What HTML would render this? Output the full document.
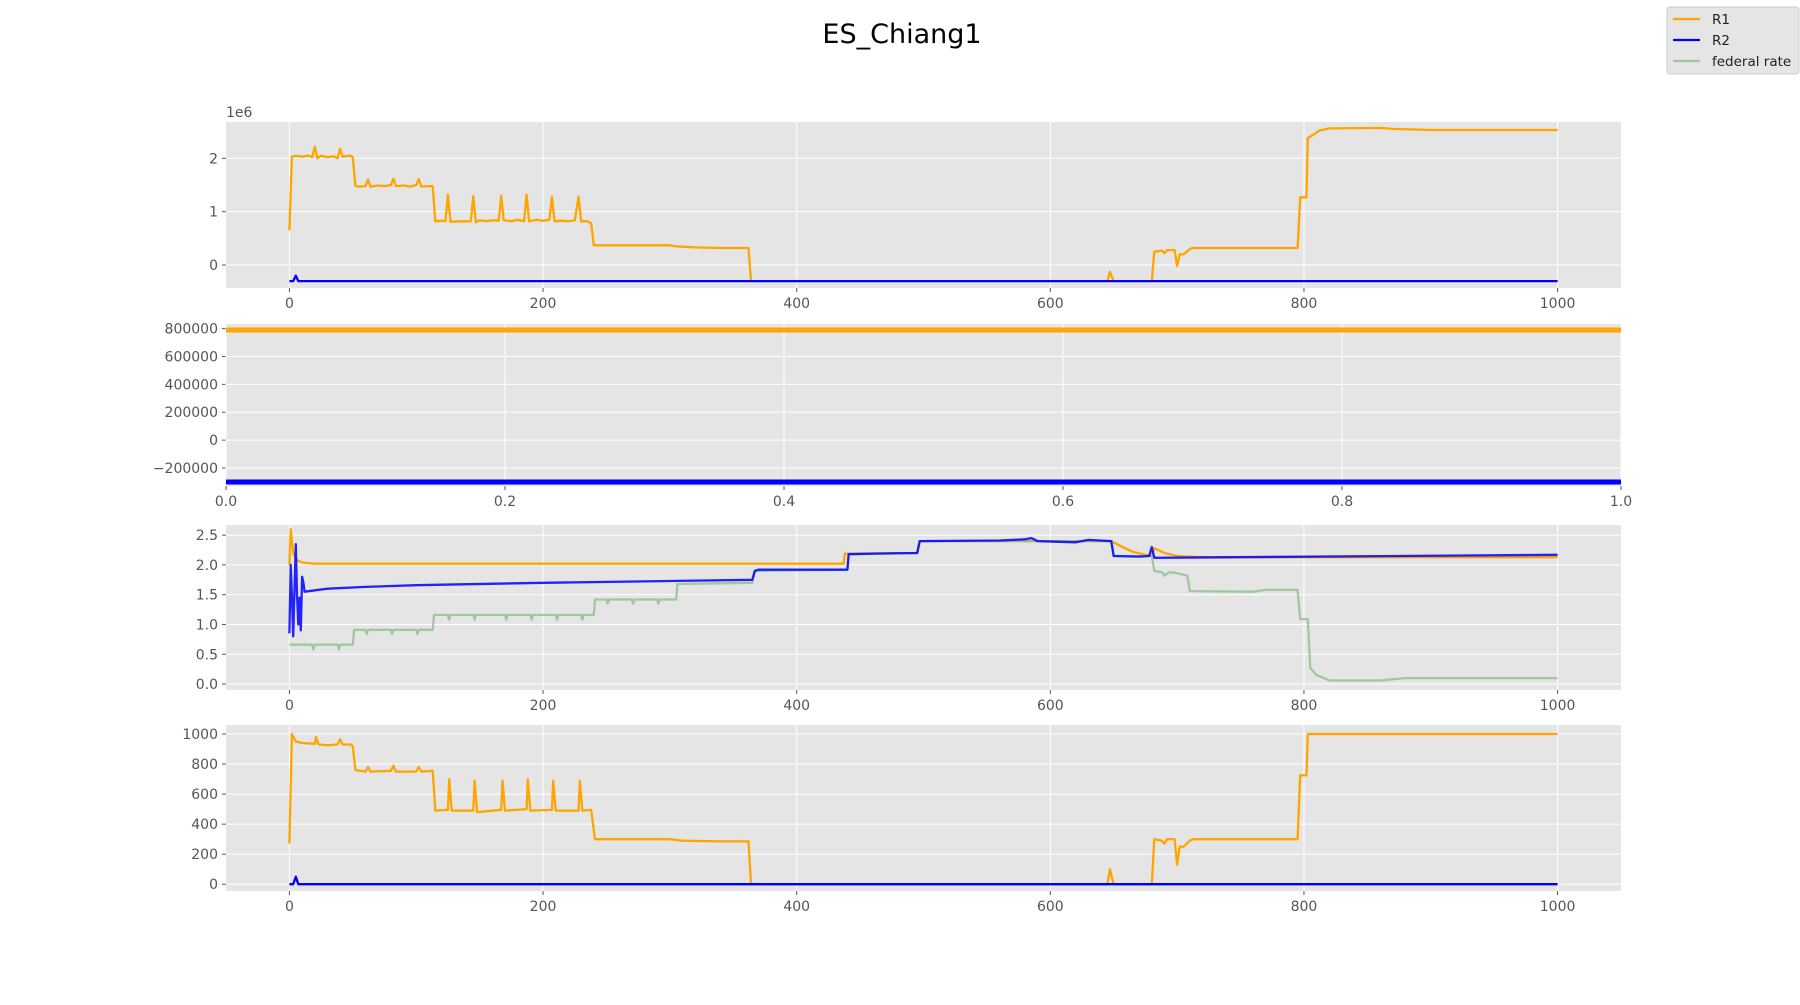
<!DOCTYPE html>
<html><head><meta charset="utf-8"><style>
body{margin:0;background:#fff;}
svg text{font-family:"DejaVu Sans","Liberation Sans",sans-serif;}
</style></head><body>
<svg id="fig" width="1800" height="1000" viewBox="0 0 1800 1000" xmlns="http://www.w3.org/2000/svg">
<text x="902" y="43" font-size="27" text-anchor="middle" fill="#000">ES_Chiang1</text>
<g>
<rect x="1667" y="7" width="132" height="67" rx="3" fill="#e5e5e5" stroke="#ccc"/>
<line x1="1673" y1="19" x2="1700" y2="19" stroke="#ffa500" stroke-width="2.3"/>
<text x="1712" y="24" font-size="13.5" fill="#222">R1</text>
<line x1="1673" y1="40" x2="1700" y2="40" stroke="#0000ff" stroke-width="2.3"/>
<text x="1712" y="45" font-size="13.5" fill="#222">R2</text>
<line x1="1673" y1="61" x2="1700" y2="61" stroke="#9fc79f" stroke-width="2.3"/>
<text x="1712" y="66" font-size="13.5" fill="#222">federal rate</text>
</g>
</svg>
<script>
// Panel 1 (units of 1e6)
const p1R1 = [[0,0.65],[2,2.03],[5,2.05],[10,2.03],[15,2.05],[18,2.02],[20,2.22],[22,2.0],[25,2.05],[30,2.02],[35,2.04],[38,2.0],[40,2.18],[42,2.03],[45,2.04],[48,2.05],[50,2.02],[52,1.48],[55,1.47],[60,1.48],[62,1.6],[64,1.47],[70,1.49],[75,1.48],[80,1.5],[82,1.62],[84,1.48],[90,1.49],[95,1.47],[100,1.5],[102,1.61],[104,1.47],[110,1.48],[113,1.48],[115,0.82],[120,0.83],[123,0.82],[125,1.32],[127,0.81],[135,0.82],[143,0.82],[145,1.29],[147,0.8],[150,0.84],[155,0.82],[160,0.84],[165,0.83],[167,1.3],[169,0.84],[175,0.82],[180,0.85],[185,0.82],[187,1.32],[189,0.82],[195,0.85],[200,0.83],[205,0.85],[207,1.28],[209,0.82],[215,0.83],[220,0.82],[225,0.84],[228,1.28],[230,0.82],[235,0.82],[238,0.78],[240,0.37],[300,0.37],[305,0.35],[320,0.33],[340,0.32],[362,0.32],[364,-0.3],[645,-0.3],[647,-0.13],[650,-0.3],[680,-0.3],[682,0.25],[688,0.27],[690,0.22],[692,0.28],[698,0.28],[700,-0.02],[702,0.2],[705,0.2],[710,0.3],[712,0.32],[795,0.32],[797,1.27],[802,1.27],[803,2.38],[808,2.45],[812,2.52],[820,2.56],[860,2.57],[870,2.55],[900,2.53],[920,2.53],[1000,2.53]];
const p1R2 = [[0,-0.3],[3,-0.3],[5,-0.2],[7,-0.3],[1000,-0.3]];
const p1Ticks = [0,1,2];
// Panel 2
const p2R1 = [[0,790000],[1,790000]];
const p2R2 = [[0,-300000],[1,-300000]];
const p2Ticks = [-200000,0,200000,400000,600000,800000];
const p2XTicks = [0,0.2,0.4,0.6,0.8,1.0];
// Panel 3
const p3R1 = [[0,2.0],[1,2.6],[3,2.2],[6,2.08],[10,2.04],[20,2.02],[437,2.02],[438,2.19],[495,2.2],[497,2.4],[648,2.4],[655,2.32],[665,2.22],[675,2.17],[680,2.15],[682,2.28],[690,2.2],[700,2.15],[720,2.13],[1000,2.13]];
const p3R2 = [[0,0.85],[1,2.0],[2,1.5],[3,0.8],[5,2.35],[6,1.5],[7,1.0],[8,1.45],[9,0.9],[10,1.8],[11,1.7],[12,1.55],[30,1.6],[60,1.63],[100,1.66],[200,1.7],[300,1.73],[365,1.75],[367,1.9],[370,1.92],[440,1.92],[441,2.18],[460,2.19],[495,2.2],[497,2.4],[560,2.41],[580,2.43],[585,2.45],[590,2.4],[620,2.38],[630,2.42],[648,2.4],[650,2.15],[670,2.14],[678,2.15],[680,2.3],[682,2.12],[1000,2.17]];
const p3Fed = [[0,0.66],[18,0.66],[19,0.58],[20,0.66],[38,0.66],[39,0.58],[40,0.66],[50,0.66],[51,0.91],[60,0.91],[61,0.84],[62,0.91],[80,0.91],[81,0.84],[82,0.91],[100,0.91],[101,0.84],[102,0.91],[113,0.91],[114,1.16],[125,1.16],[126,1.08],[127,1.16],[145,1.16],[146,1.08],[147,1.16],[170,1.16],[171,1.08],[172,1.16],[190,1.16],[191,1.08],[192,1.16],[210,1.16],[211,1.08],[212,1.16],[230,1.16],[231,1.08],[232,1.16],[240,1.16],[241,1.42],[250,1.42],[251,1.35],[252,1.42],[270,1.42],[271,1.35],[272,1.42],[290,1.42],[291,1.35],[292,1.42],[305,1.42],[306,1.68],[365,1.7],[367,1.9],[440,1.92],[441,2.18],[495,2.2],[497,2.4],[648,2.4],[650,2.15],[680,2.15],[682,1.9],[688,1.88],[690,1.82],[694,1.88],[700,1.86],[708,1.82],[710,1.56],[760,1.55],[770,1.58],[795,1.58],[797,1.09],[803,1.09],[805,0.27],[810,0.15],[820,0.06],[860,0.06],[880,0.1],[900,0.1],[950,0.1],[1000,0.1]];
const p3Ticks = [0,0.5,1,1.5,2,2.5];
const p3TickLabels = ["0.0","0.5","1.0","1.5","2.0","2.5"];
// Panel 4
const p4R1 = [[0,270],[2,1000],[5,950],[10,940],[20,935],[21,980],[23,930],[30,925],[38,930],[40,965],[42,930],[48,930],[50,920],[52,760],[60,750],[62,780],[64,750],[80,755],[82,790],[84,750],[100,750],[102,780],[104,750],[113,755],[115,490],[125,495],[126,700],[128,490],[145,490],[146,690],[148,480],[167,495],[168,690],[170,490],[187,500],[188,700],[190,490],[207,495],[208,690],[210,490],[228,490],[229,690],[231,490],[238,495],[241,300],[300,300],[310,290],[340,285],[362,285],[364,0],[645,0],[647,100],[650,0],[680,0],[682,300],[688,290],[690,270],[692,300],[698,300],[700,130],[702,250],[705,250],[710,290],[713,300],[795,300],[797,725],[802,725],[803,1000],[1000,1000]];
const p4R2 = [[0,0],[3,0],[5,50],[7,0],[1000,0]];
const p4Ticks = [0,200,400,600,800,1000];
const xTicks = [0,200,400,600,800,1000];

const NS = 'http://www.w3.org/2000/svg';
const fig = document.getElementById('fig');
function mk(tag, attrs, parent){const e=document.createElementNS(NS,tag);for(const k in attrs)e.setAttribute(k,attrs[k]);(parent||fig).appendChild(e);return e;}
const L=226,R=1621;
function panel(name, top, bot, xmin, xmax, ymin, ymax, yt, ytl, xt, xtl, series){
  const g=mk('g',{});
  
  
  const sx=v=>L+(v-xmin)/(xmax-xmin)*(R-L);
  const sy=v=>bot-(v-ymin)/(ymax-ymin)*(bot-top);
  mk('rect',{x:L,y:top,width:R-L,height:bot-top,fill:'#e5e5e5'},g);
  const clipId='c'+name;
  const cp=mk('clipPath',{id:clipId},g);
  mk('rect',{x:L,y:top,width:R-L,height:bot-top},cp);
  yt.forEach((v,i)=>{
    const y=sy(v);
    mk('line',{x1:L,x2:R,y1:y,y2:y,stroke:'#fff','stroke-width':1},g);
    mk('line',{x1:L-4,x2:L,y1:y,y2:y,stroke:'#555','stroke-width':1},g);
    const t=mk('text',{x:L-8,y:y+5,'font-size':14,'text-anchor':'end',fill:'#555'},g);
    t.textContent=ytl[i];
    
    
  });
  xt.forEach((v,i)=>{
    const x=sx(v);
    mk('line',{x1:x,x2:x,y1:top,y2:bot,stroke:'#fff','stroke-width':1},g);
    mk('line',{x1:x,x2:x,y1:bot,y2:bot+4,stroke:'#555','stroke-width':1},g);
    const t=mk('text',{x:x,y:bot+20,'font-size':14,'text-anchor':'middle',fill:'#555'},g);
    t.textContent=xtl[i];
    
    
  });
  series.forEach(s=>{
    const d=s.data.map((p,i)=>(i?'L':'M')+sx(p[0]).toFixed(1)+','+sy(p[1]).toFixed(1)).join('');
    const p=mk('path',{d:d,fill:'none',stroke:s.color,'stroke-width':s.w||2.3,'stroke-opacity':s.op||1,'stroke-linejoin':'round','clip-path':'url(#'+clipId+')'},g);
    
    
  });
  return g;
}
const xl=xTicks.map(String);
panel('panel-1',122,288,-50,1050,-0.43,2.68,p1Ticks,p1Ticks.map(String),xTicks,xl,[
  {name:'r1-line',color:'#ffa500',data:p1R1},{name:'r2-line',color:'#0000ff',data:p1R2}]);
const off=mk('text',{x:226,y:117,'font-size':14,fill:'#555'});
off.textContent='1e6';


panel('panel-2',324,486,0,1,-329000,833000,p2Ticks,p2Ticks.map(v=>v<0?'\u2212'+(-v):String(v)),p2XTicks,p2XTicks.map(v=>v.toFixed(1)),[
  {name:'r1-line',color:'#ffa500',data:p2R1,w:5},{name:'r2-line',color:'#0000ff',data:p2R2,w:5}]);
panel('panel-3',525,690,-50,1050,-0.1,2.67,p3Ticks,p3TickLabels,xTicks,xl,[
  {name:'r1-line',color:'#ffa500',data:p3R1},{name:'federal-rate-line',color:'#8fbf8f',data:p3Fed,op:0.8},{name:'r2-line',color:'#0000ff',data:p3R2,op:0.85}]);
panel('panel-4',725,891,-50,1050,-45,1060,p4Ticks,p4Ticks.map(String),xTicks,xl,[
  {name:'r1-line',color:'#ffa500',data:p4R1},{name:'r2-line',color:'#0000ff',data:p4R2}]);
</script>
</body></html>
